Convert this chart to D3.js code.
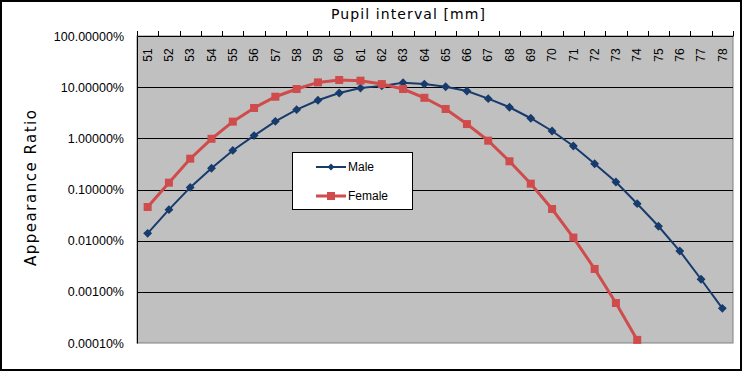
<!DOCTYPE html>
<html>
<head>
<meta charset="utf-8">
<script src="https://cdn.jsdelivr.net/npm/d3@7"></script>
<style>
  body { margin: 0; background: #fff; }
  svg text { font-family: "Liberation Sans", Arial, sans-serif; }
</style>
</head>
<body>
<div id="chart"></div>
<script>
// pupil interval categories [mm]
const intervals = d3.range(51, 79).map(String);

// appearance ratio in percent
const maleRatio = [0.0139, 0.0404, 0.110, 0.26, 0.58, 1.13, 2.15, 3.63, 5.54, 7.7,
    9.6, 10.6, 12.2, 11.5, 10.2, 8.4, 5.96, 4.05, 2.47, 1.39,
    0.708, 0.319, 0.140, 0.0528, 0.0191, 0.00628, 0.00176, 0.000476];
const femaleRatio = [0.0455, 0.136, 0.40, 0.98, 2.12, 3.92, 6.5, 9.2, 12.4, 13.8,
    13.4, 11.5, 9.2, 6.2, 3.75, 1.9, 0.9, 0.356, 0.13, 0.0416,
    0.0115, 0.0028, 0.000605, 0.000115];

const yTicks = [100, 10, 1, 0.1, 0.01, 0.001, 0.0001];
const seriesNames = ["Male", "Female"];

const W = 743, H = 372;
const plot = { left: 137, right: 733, top: 36, bottom: 343 };

const svg = d3.select("#chart").append("svg")
    .attr("width", W)
    .attr("height", H);

// chart frame
svg.append("rect")
    .attr("x", 1).attr("y", 1)
    .attr("width", W - 3).attr("height", H - 3)
    .attr("fill", "#fff")
    .attr("stroke", "#000")
    .attr("stroke-width", 2);

const x = d3.scaleBand()
    .domain(intervals)
    .range([plot.left, plot.right])
    .padding(0);

const y = d3.scaleLog()
    .domain([0.0001, 100])
    .range([plot.bottom, plot.top]);

// plot area
svg.append("rect")
    .attr("x", plot.left).attr("y", plot.top)
    .attr("width", plot.right - plot.left)
    .attr("height", plot.bottom - plot.top)
    .attr("fill", "#c0c0c0")
    .attr("stroke", "#808080");

// gridlines
svg.append("g")
    .selectAll("line")
    .data(yTicks.slice(1, -1))
    .enter()
    .append("line")
    .attr("x1", plot.left).attr("x2", plot.right)
    .attr("y1", d => Math.round(y(d)) + 0.5)
    .attr("y2", d => Math.round(y(d)) + 0.5)
    .attr("stroke", "#000");

// y axis
const fmt = d3.format(".5f");
const yAxis = svg.append("g")
    .attr("transform", `translate(${plot.left},0)`)
    .call(d3.axisLeft(y).tickValues(yTicks).tickSize(0).tickPadding(13)
        .tickFormat(d => fmt(d) + "%"));
yAxis.select(".domain").attr("stroke", "#000");
yAxis.selectAll("text")
    .attr("font-size", 12.5)
    .attr("fill", "#000")
    .attr("font-family", "Liberation Sans, Arial, sans-serif");

// x axis on top, ticks between categories
const xAxis = svg.append("g")
    .attr("transform", `translate(0,${plot.top})`)
    .call(d3.axisTop(x).tickSize(0).tickSizeOuter(0));
xAxis.select(".domain").attr("stroke", "#000");
xAxis.selectAll("text")
    .attr("font-size", 12)
    .attr("fill", "#000")
    .attr("font-family", "Liberation Sans, Arial, sans-serif")
    .attr("text-anchor", "middle")
    .attr("dy", "0.35em")
    .attr("transform", "translate(0,19) rotate(-90)")
    .attr("y", 0);

const bounds = intervals.map(d => x(d)).concat([x.range()[1]]);
svg.append("g")
    .selectAll("line")
    .data(bounds)
    .enter()
    .append("line")
    .attr("x1", d => Math.round(d) + 0.5).attr("x2", d => Math.round(d) + 0.5)
    .attr("y1", plot.top - 5).attr("y2", plot.top)
    .attr("stroke", "#000");

// titles
svg.append("text")
    .attr("x", 408).attr("y", 19)
    .attr("text-anchor", "middle")
    .attr("font-size", 14)
    .attr("textLength", 154)
    .style("font-family", "DejaVu Sans, sans-serif")
    .text("Pupil interval [mm]");

svg.append("text")
    .attr("transform", "translate(36,188) rotate(-90)")
    .attr("text-anchor", "middle")
    .attr("font-size", 15)
    .attr("textLength", 156)
    .style("font-family", "DejaVu Sans, sans-serif")
    .text("Appearance Ratio");

// series
const cx = d => x(d) + x.bandwidth() / 2;
const line = d3.line()
    .x(d => cx(d.k))
    .y(d => y(d.v));

const male = maleRatio.map((v, i) => ({ k: intervals[i], v }));
const female = femaleRatio.map((v, i) => ({ k: intervals[i], v }));

const MALE_COLOR = "#173b6c";
const FEMALE_COLOR = "#d04b4b";

svg.append("path")
    .datum(male)
    .attr("fill", "none")
    .attr("stroke", MALE_COLOR)
    .attr("stroke-width", 2)
    .attr("d", line);

svg.append("path")
    .datum(female)
    .attr("fill", "none")
    .attr("stroke", FEMALE_COLOR)
    .attr("stroke-width", 3)
    .attr("d", line);

const diamond = d3.symbol().type(d3.symbolDiamond2).size(50);
svg.append("g")
    .selectAll("path")
    .data(male)
    .enter()
    .append("path")
    .attr("d", diamond)
    .attr("transform", d => `translate(${cx(d.k)},${y(d.v)})`)
    .attr("fill", MALE_COLOR);

svg.append("g")
    .selectAll("rect")
    .data(female)
    .enter()
    .append("rect")
    .attr("x", d => cx(d.k) - 4)
    .attr("y", d => y(d.v) - 4)
    .attr("width", 8).attr("height", 8)
    .attr("fill", FEMALE_COLOR);

// legend
const legend = svg.append("g").attr("transform", "translate(292,152)");
legend.append("rect")
    .attr("x", 0.5).attr("y", 0.5)
    .attr("width", 120).attr("height", 57)
    .attr("fill", "#fff")
    .attr("stroke", "#000");

seriesNames.forEach((name, i) => {
    const ly = 15 + i * 29;
    const color = i === 0 ? MALE_COLOR : FEMALE_COLOR;
    legend.append("line")
        .attr("x1", 24).attr("x2", 54)
        .attr("y1", ly).attr("y2", ly)
        .attr("stroke", color)
        .attr("stroke-width", i === 0 ? 2 : 3);
    if (i === 0) {
        legend.append("path")
            .attr("d", d3.symbol().type(d3.symbolDiamond2).size(30))
            .attr("transform", `translate(39,${ly})`)
            .attr("fill", color);
    } else {
        legend.append("rect")
            .attr("x", 35).attr("y", ly - 4)
            .attr("width", 8).attr("height", 8)
            .attr("fill", color);
    }
    legend.append("text")
        .attr("x", 56).attr("y", ly)
        .attr("dy", "0.35em")
        .attr("font-size", 12)
        .text(name);
});
</script>
</body>
</html>
